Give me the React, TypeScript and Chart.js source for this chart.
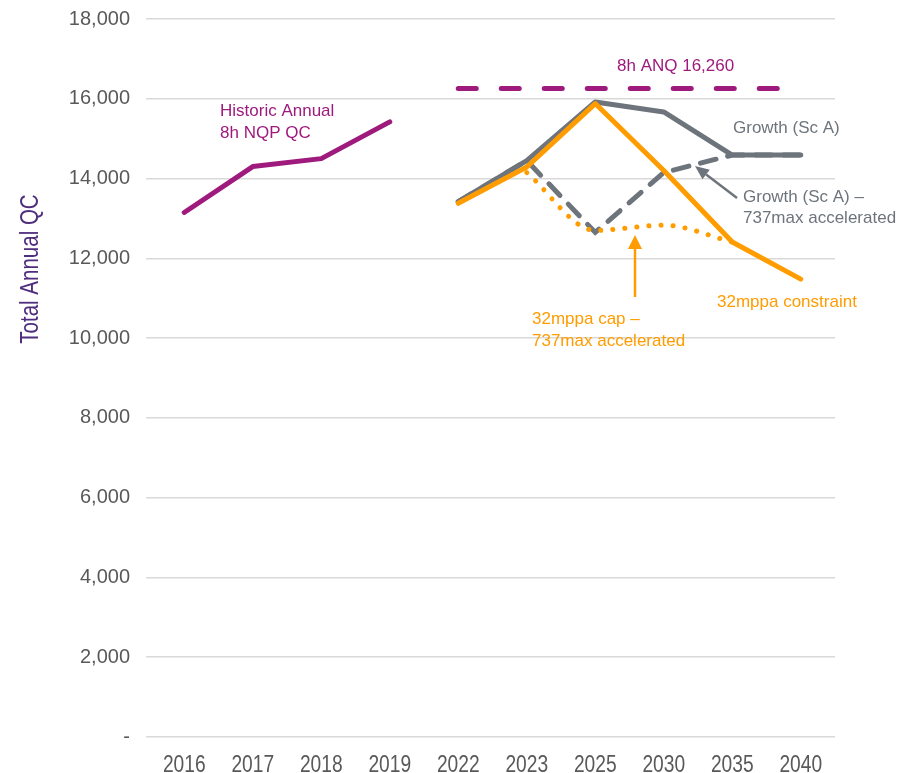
import React, { useEffect, useRef } from "react";
import { Chart, registerables } from "chart.js";

Chart.register(...registerables);

const categories = ["2016", "2017", "2018", "2019", "2022", "2023", "2025", "2030", "2035", "2040"];
const historic = [13150, 14300, 14500, 15420, null, null, null, null, null, null];
const anq = [null, null, null, null, 16260, 16260, 16260, 16260, 16260, 16260];
const growthA = [null, null, null, null, 13420, 14450, 15920, 15670, 14590, 14590];
const growthAccel = [null, null, null, null, 13420, 14450, 12650, 14150, 14590, 14590];
const constraint32 = [null, null, null, null, 13380, 14290, 15880, 14200, 12410, 11480];
const cap32Accel = [null, null, null, null, null, 14150, 12700, 12830, 12410, null];
const yTicks = [0, 2000, 4000, 6000, 8000, 10000, 12000, 14000, 16000, 18000];

const PURPLE = "#9E1A7D";
const GRAY = "#6D747B";
const ORANGE = "#FF9C00";
const TITLE_PURPLE = "#4F2D7F";
const TICK_GRAY = "#595959";

function drawArrow(ctx: CanvasRenderingContext2D, x1: number, y1: number, x2: number, y2: number, color: string, lw: number, headLen: number, headW: number) {
  const ang = Math.atan2(y2 - y1, x2 - x1);
  const bx = x2 - headLen * Math.cos(ang);
  const by = y2 - headLen * Math.sin(ang);
  ctx.save();
  ctx.strokeStyle = color;
  ctx.fillStyle = color;
  ctx.lineWidth = lw;
  ctx.beginPath();
  ctx.moveTo(x1, y1);
  ctx.lineTo(bx, by);
  ctx.stroke();
  const px = -Math.sin(ang) * headW / 2;
  const py = Math.cos(ang) * headW / 2;
  ctx.beginPath();
  ctx.moveTo(x2, y2);
  ctx.lineTo(bx + px, by + py);
  ctx.lineTo(bx - px, by - py);
  ctx.closePath();
  ctx.fill();
  ctx.restore();
}

const annotations = {
  id: "annotations",
  afterDraw(chart: any) {
    const ctx = chart.ctx as CanvasRenderingContext2D;
    ctx.save();
    ctx.textAlign = "left";
    ctx.textBaseline = "alphabetic";
    ctx.font = "17px 'Liberation Sans', Arial, sans-serif";
    ctx.fillStyle = PURPLE;
    ctx.fillText("Historic Annual", 220, 116);
    ctx.fillText("8h NQP QC", 220, 138);
    ctx.fillText("8h ANQ 16,260", 617, 71);
    ctx.fillStyle = GRAY;
    ctx.fillText("Growth (Sc A)", 733, 133);
    ctx.fillText("Growth (Sc A) \u2013", 743, 202);
    ctx.fillText("737max accelerated", 743, 223);
    ctx.fillStyle = ORANGE;
    ctx.fillText("32mppa constraint", 717, 307);
    ctx.fillText("32mppa cap \u2013", 532, 324);
    ctx.fillText("737max accelerated", 532, 346);
    drawArrow(ctx, 737, 198, 695, 166, GRAY, 2.5, 14, 12);
    drawArrow(ctx, 635, 297, 635, 235, ORANGE, 2.5, 14, 14);

    // x tick labels (condensed)
    const xs = chart.scales.x;
    ctx.fillStyle = TICK_GRAY;
    ctx.font = "24px 'Liberation Sans', Arial, sans-serif";
    ctx.textAlign = "center";
    xs.ticks.forEach((t: any, i: number) => {
      const x = xs.getPixelForTick(i);
      ctx.save();
      ctx.translate(x, 772);
      ctx.scale(0.8, 1);
      ctx.fillText(String(xs.getLabelForValue(t.value)), 0, 0);
      ctx.restore();
    });

    // y title (condensed)
    ctx.translate(31, 269);
    ctx.rotate(-Math.PI / 2);
    ctx.scale(0.82, 1);
    ctx.textAlign = "center";
    ctx.textBaseline = "middle";
    ctx.fillStyle = TITLE_PURPLE;
    ctx.font = "25px 'Liberation Sans', Arial, sans-serif";
    ctx.fillText("Total Annual QC", 0, 0);
    ctx.restore();
  },
};

function zeroPad(s: any) {
  s.paddingTop = 0;
  s.paddingBottom = 0;
  s.paddingLeft = 0;
  s.paddingRight = 0;
}

export default function App() {
  const ref = useRef<HTMLCanvasElement | null>(null);
  useEffect(() => {
    document.body.style.margin = "0";
    const canvas = ref.current!;
    const chart = new Chart(canvas, {
      type: "line",
      data: {
        labels: categories,
        datasets: [
          {
            label: "32mppa constraint",
            data: constraint32,
            borderColor: ORANGE,
            borderWidth: 5,
            borderCapStyle: "round",
            borderJoinStyle: "round",
            pointRadius: 0,
          },
          {
            label: "32mppa cap – 737max accelerated",
            data: cap32Accel,
            borderColor: ORANGE,
            borderWidth: 5,
            borderDash: [0.1, 12],
            borderCapStyle: "round",
            cubicInterpolationMode: "monotone",
            pointRadius: 0,
          },
          {
            label: "Growth (Sc A)",
            data: growthA,
            borderColor: GRAY,
            borderWidth: 5,
            borderCapStyle: "round",
            borderJoinStyle: "round",
            pointRadius: 0,
          },
          {
            label: "Growth (Sc A) – 737max accelerated",
            data: growthAccel,
            borderColor: GRAY,
            borderWidth: 5,
            borderDash: [16, 12],
            borderCapStyle: "round",
            pointRadius: 0,
          },
          {
            label: "8h ANQ 16,260",
            data: anq,
            borderColor: PURPLE,
            borderWidth: 5,
            borderDash: [18, 25],
            borderCapStyle: "round",
            pointRadius: 0,
          },
          {
            label: "Historic Annual 8h NQP QC",
            data: historic,
            borderColor: PURPLE,
            borderWidth: 5,
            borderCapStyle: "round",
            borderJoinStyle: "round",
            pointRadius: 0,
          },
        ],
      },
      options: {
        responsive: false,
        animation: false,
        devicePixelRatio: 1,
        layout: { padding: { left: 0, right: 76, top: 19, bottom: 0 } },
        plugins: {
          legend: { display: false },
          tooltip: { enabled: false },
        },
        scales: {
          x: {
            offset: true,
            grid: { display: false, drawTicks: false },
            border: { display: false },
            ticks: {
              color: "rgba(0,0,0,0)",
              padding: 9,
              maxRotation: 0,
              autoSkip: false,
              font: { family: "'Liberation Sans', Arial, sans-serif", size: 14 },
            },
            afterFit: (s: any) => {
              s.height = 36;
              zeroPad(s);
            },
          },
          y: {
            min: 0,
            max: 18000,
            afterBuildTicks: (s: any) => {
              s.ticks = yTicks.map((v) => ({ value: v }));
            },
            grid: { color: "#D9D9D9", lineWidth: 1.5, tickLength: 4, drawTicks: true },
            border: { display: false },
            ticks: {
              color: TICK_GRAY,
              padding: 16,
              font: { family: "'Liberation Sans', Arial, sans-serif", size: 20 },
              callback: (v: any) => (Number(v) === 0 ? "-" : Number(v).toLocaleString("en-US")),
            },
            afterFit: (s: any) => {
              s.width = 150;
              zeroPad(s);
            },
          },
        },
      },
      plugins: [annotations],
    });
    return () => chart.destroy();
  }, []);
  return (
    <div style={{ position: "absolute", left: 0, top: 0, width: 911, height: 773 }}>
      <canvas ref={ref} width={911} height={773} style={{ display: "block", width: 911, height: 773 }} />
    </div>
  );
}
